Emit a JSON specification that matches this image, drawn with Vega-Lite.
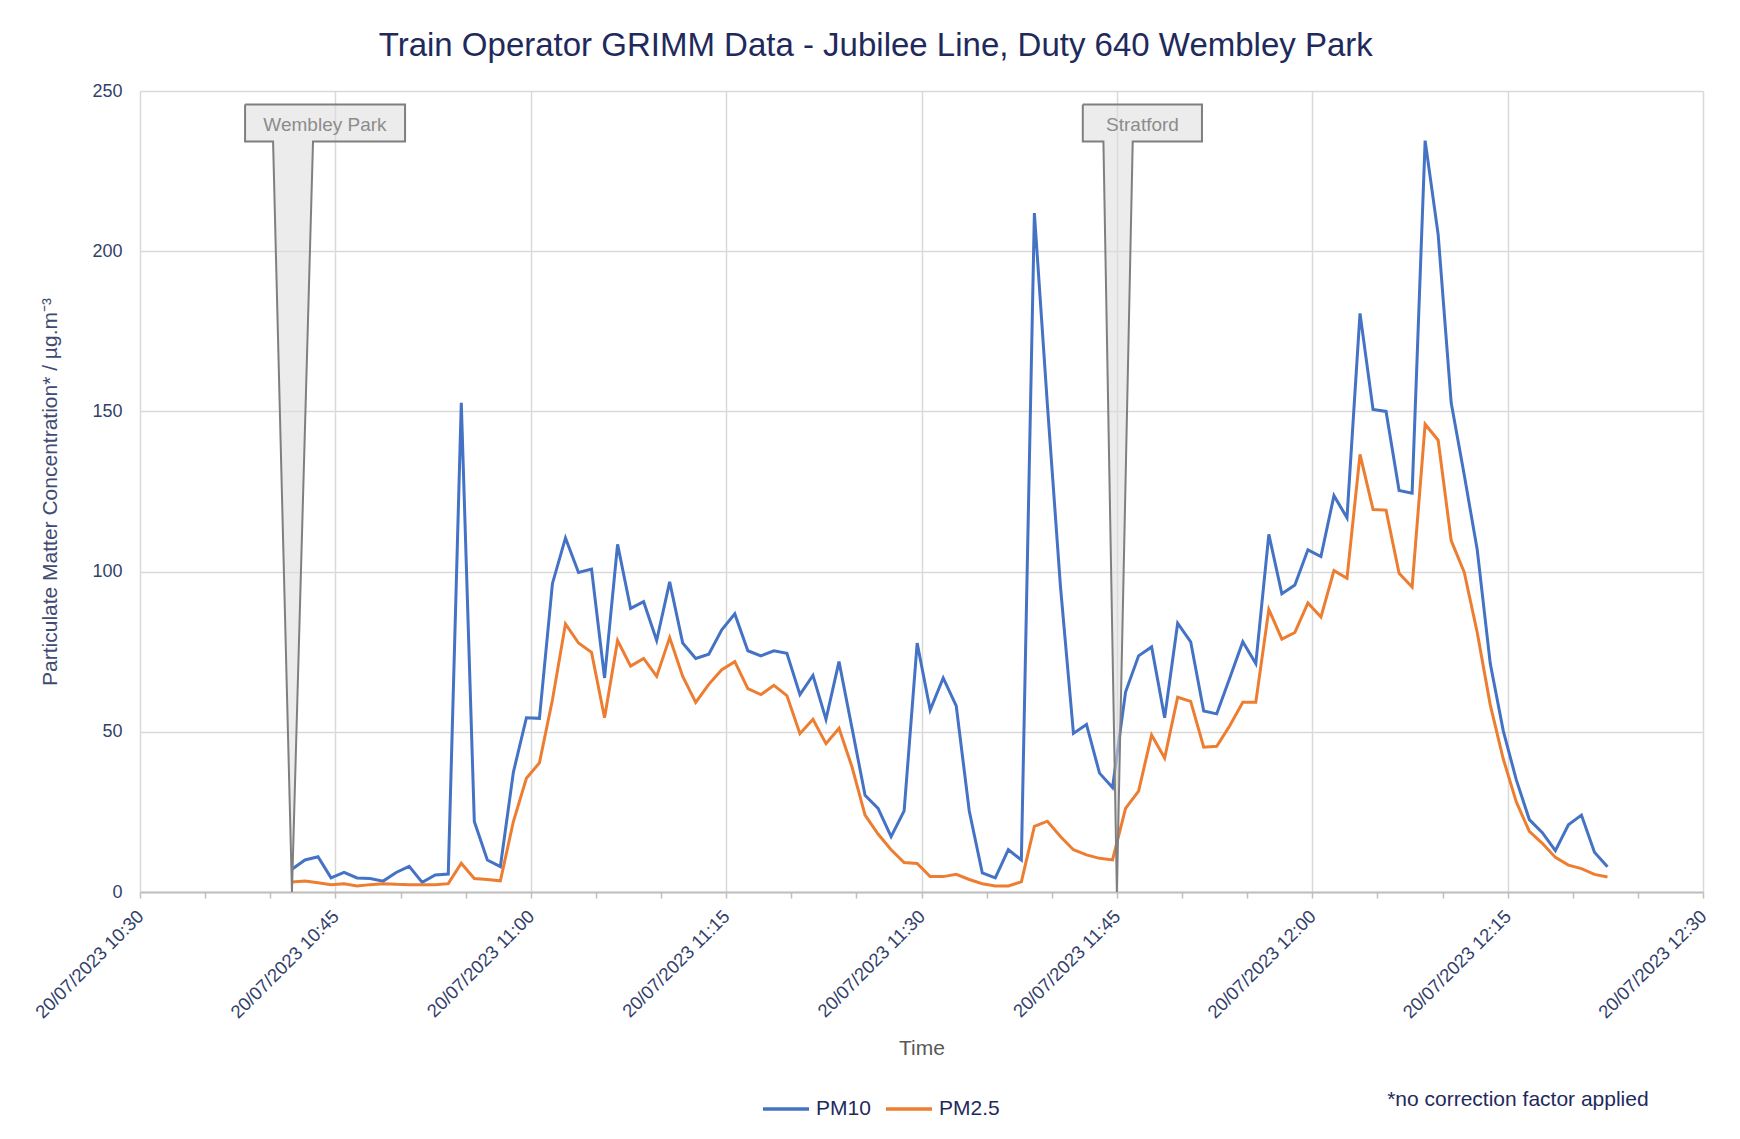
{
  "$schema": "https://vega.github.io/schema/vega-lite/v6.json",
  "width": 1563,
  "height": 801,
  "autosize": {"type": "none"},
  "padding": {"left": 140, "top": 91, "right": 37, "bottom": 247},
  "background": "white",
  "config": {
    "view": {"stroke": null},
    "font": "Liberation Sans",
    "axisX": {
      "labelAngle": -45, "labelFontSize": 18.5, "labelColor": "#333f6b", "labelPadding": 15, "labelBaseline": "middle",
      "labelOverlap": false, "labelBound": false, "labelFlush": false,
      "gridColor": "#d9d9d9", "gridWidth": 1.5,
      "domainColor": "#bfbfbf", "domainWidth": 2,
      "tickColor": "#bfbfbf", "tickWidth": 1.5, "tickSize": 6,
      "titleFontSize": 21, "titleColor": "#595959", "titleFontWeight": "normal", "titlePadding": 16
    },
    "axisY": {
      "domain": false, "ticks": false,
      "labelFontSize": 18, "labelColor": "#333f6b", "labelPadding": 18,
      "gridColor": "#d9d9d9", "gridWidth": 1.5,
      "titleFontSize": 21, "titleFontWeight": "normal", "titleColor": "#404b73", "titlePadding": 31
    }
  },
  "title": {
    "text": "Train Operator GRIMM Data - Jubilee Line, Duty 640 Wembley Park",
    "fontSize": 33, "fontWeight": "normal", "color": "#1f2a5c",
    "anchor": "middle", "frame": "bounds", "offset": 19, "dx": 5
  },
  "resolve": {"axis": {"x": "independent"}},
  "datasets": {
    "gr": [
      {"t":"2023-07-20T10:41:40","PM10":7.1,"PM25":3.1},
      {"t":"2023-07-20T10:42:40","PM10":10,"PM25":3.4},
      {"t":"2023-07-20T10:43:40","PM10":11,"PM25":2.9},
      {"t":"2023-07-20T10:44:40","PM10":4.4,"PM25":2.3},
      {"t":"2023-07-20T10:45:40","PM10":6.1,"PM25":2.6},
      {"t":"2023-07-20T10:46:40","PM10":4.4,"PM25":1.9},
      {"t":"2023-07-20T10:47:40","PM10":4.2,"PM25":2.3},
      {"t":"2023-07-20T10:48:40","PM10":3.4,"PM25":2.6},
      {"t":"2023-07-20T10:49:40","PM10":6.1,"PM25":2.4},
      {"t":"2023-07-20T10:50:40","PM10":8,"PM25":2.3},
      {"t":"2023-07-20T10:51:40","PM10":3,"PM25":2.3},
      {"t":"2023-07-20T10:52:40","PM10":5.3,"PM25":2.3},
      {"t":"2023-07-20T10:53:40","PM10":5.6,"PM25":2.6},
      {"t":"2023-07-20T10:54:40","PM10":152.7,"PM25":9},
      {"t":"2023-07-20T10:55:40","PM10":22,"PM25":4.2},
      {"t":"2023-07-20T10:56:40","PM10":10,"PM25":3.9},
      {"t":"2023-07-20T10:57:40","PM10":7.9,"PM25":3.5},
      {"t":"2023-07-20T10:58:40","PM10":37.4,"PM25":22},
      {"t":"2023-07-20T10:59:40","PM10":54.4,"PM25":35.5},
      {"t":"2023-07-20T11:00:40","PM10":54.2,"PM25":40.3},
      {"t":"2023-07-20T11:01:40","PM10":96.3,"PM25":60},
      {"t":"2023-07-20T11:02:40","PM10":110.5,"PM25":83.7},
      {"t":"2023-07-20T11:03:40","PM10":99.7,"PM25":77.7},
      {"t":"2023-07-20T11:04:40","PM10":100.8,"PM25":74.8},
      {"t":"2023-07-20T11:05:40","PM10":66.8,"PM25":54.4},
      {"t":"2023-07-20T11:06:40","PM10":108.5,"PM25":78.5},
      {"t":"2023-07-20T11:07:40","PM10":88.5,"PM25":70.5},
      {"t":"2023-07-20T11:08:40","PM10":90.6,"PM25":72.9},
      {"t":"2023-07-20T11:09:40","PM10":78.5,"PM25":67.3},
      {"t":"2023-07-20T11:10:40","PM10":96.8,"PM25":79.4},
      {"t":"2023-07-20T11:11:40","PM10":77.7,"PM25":67.3},
      {"t":"2023-07-20T11:12:40","PM10":72.9,"PM25":59.2},
      {"t":"2023-07-20T11:13:40","PM10":74.2,"PM25":64.8},
      {"t":"2023-07-20T11:14:40","PM10":81.8,"PM25":69.4},
      {"t":"2023-07-20T11:15:40","PM10":86.8,"PM25":71.9},
      {"t":"2023-07-20T11:16:40","PM10":75.3,"PM25":63.5},
      {"t":"2023-07-20T11:17:40","PM10":73.7,"PM25":61.6},
      {"t":"2023-07-20T11:18:40","PM10":75.3,"PM25":64.5},
      {"t":"2023-07-20T11:19:40","PM10":74.5,"PM25":61.3},
      {"t":"2023-07-20T11:20:40","PM10":61.6,"PM25":49.4},
      {"t":"2023-07-20T11:21:40","PM10":67.6,"PM25":53.9},
      {"t":"2023-07-20T11:22:40","PM10":53.9,"PM25":46.3},
      {"t":"2023-07-20T11:23:40","PM10":71.9,"PM25":51.1},
      {"t":"2023-07-20T11:24:40","PM10":51.1,"PM25":39},
      {"t":"2023-07-20T11:25:40","PM10":30.2,"PM25":24},
      {"t":"2023-07-20T11:26:40","PM10":26.1,"PM25":18.1},
      {"t":"2023-07-20T11:27:40","PM10":17.3,"PM25":13.2},
      {"t":"2023-07-20T11:28:40","PM10":25.3,"PM25":9.2},
      {"t":"2023-07-20T11:29:40","PM10":77.7,"PM25":8.9},
      {"t":"2023-07-20T11:30:40","PM10":56.8,"PM25":4.8},
      {"t":"2023-07-20T11:31:40","PM10":66.8,"PM25":4.8},
      {"t":"2023-07-20T11:32:40","PM10":58.1,"PM25":5.5},
      {"t":"2023-07-20T11:33:40","PM10":25.3,"PM25":3.9},
      {"t":"2023-07-20T11:34:40","PM10":6,"PM25":2.6},
      {"t":"2023-07-20T11:35:40","PM10":4.4,"PM25":1.9},
      {"t":"2023-07-20T11:36:40","PM10":13.2,"PM25":1.9},
      {"t":"2023-07-20T11:37:40","PM10":10,"PM25":3.2},
      {"t":"2023-07-20T11:38:40","PM10":211.9,"PM25":20.5},
      {"t":"2023-07-20T11:39:40","PM10":152,"PM25":22.1},
      {"t":"2023-07-20T11:40:40","PM10":95.5,"PM25":17.3},
      {"t":"2023-07-20T11:41:40","PM10":49.5,"PM25":13.2},
      {"t":"2023-07-20T11:42:40","PM10":52.3,"PM25":11.6},
      {"t":"2023-07-20T11:43:40","PM10":37.1,"PM25":10.5},
      {"t":"2023-07-20T11:44:40","PM10":32.6,"PM25":10},
      {"t":"2023-07-20T11:45:40","PM10":62.4,"PM25":26.1},
      {"t":"2023-07-20T11:46:40","PM10":73.7,"PM25":31.5},
      {"t":"2023-07-20T11:47:40","PM10":76.5,"PM25":49},
      {"t":"2023-07-20T11:48:40","PM10":54.4,"PM25":41.8},
      {"t":"2023-07-20T11:49:40","PM10":83.9,"PM25":60.8},
      {"t":"2023-07-20T11:50:40","PM10":78.1,"PM25":59.5},
      {"t":"2023-07-20T11:51:40","PM10":56.5,"PM25":45.2},
      {"t":"2023-07-20T11:52:40","PM10":55.6,"PM25":45.5},
      {"t":"2023-07-20T11:53:40","PM10":66.8,"PM25":51.9},
      {"t":"2023-07-20T11:54:40","PM10":78.1,"PM25":59.2},
      {"t":"2023-07-20T11:55:40","PM10":71.3,"PM25":59.2},
      {"t":"2023-07-20T11:56:40","PM10":111.6,"PM25":88.2},
      {"t":"2023-07-20T11:57:40","PM10":93.1,"PM25":78.9},
      {"t":"2023-07-20T11:58:40","PM10":95.8,"PM25":81},
      {"t":"2023-07-20T11:59:40","PM10":106.8,"PM25":90.2},
      {"t":"2023-07-20T12:00:40","PM10":104.7,"PM25":85.8},
      {"t":"2023-07-20T12:01:40","PM10":123.7,"PM25":100.3},
      {"t":"2023-07-20T12:02:40","PM10":116.8,"PM25":97.9},
      {"t":"2023-07-20T12:03:40","PM10":180.6,"PM25":136.6},
      {"t":"2023-07-20T12:04:40","PM10":150.6,"PM25":119.4},
      {"t":"2023-07-20T12:05:40","PM10":150,"PM25":119.2},
      {"t":"2023-07-20T12:06:40","PM10":125.3,"PM25":99.5},
      {"t":"2023-07-20T12:07:40","PM10":124.5,"PM25":95.2},
      {"t":"2023-07-20T12:08:40","PM10":234.5,"PM25":146},
      {"t":"2023-07-20T12:09:40","PM10":205.2,"PM25":141},
      {"t":"2023-07-20T12:10:40","PM10":152.7,"PM25":109.7},
      {"t":"2023-07-20T12:11:40","PM10":130.2,"PM25":99.8},
      {"t":"2023-07-20T12:12:40","PM10":106.8,"PM25":81},
      {"t":"2023-07-20T12:13:40","PM10":71.3,"PM25":58.4},
      {"t":"2023-07-20T12:14:40","PM10":50.3,"PM25":41.5},
      {"t":"2023-07-20T12:15:40","PM10":35,"PM25":28.1},
      {"t":"2023-07-20T12:16:40","PM10":22.6,"PM25":18.9},
      {"t":"2023-07-20T12:17:40","PM10":18.5,"PM25":15.2},
      {"t":"2023-07-20T12:18:40","PM10":12.9,"PM25":10.8},
      {"t":"2023-07-20T12:19:40","PM10":21,"PM25":8.4},
      {"t":"2023-07-20T12:20:40","PM10":24,"PM25":7.3},
      {"t":"2023-07-20T12:21:40","PM10":12.4,"PM25":5.5},
      {"t":"2023-07-20T12:22:40","PM10":7.9,"PM25":4.7}
    ],
    "callouts": [
      {"name":"Wembley Park","ord":1,"t":"2023-07-20T10:38:04","v":245.8},
      {"name":"Wembley Park","ord":2,"t":"2023-07-20T10:50:21","v":245.8},
      {"name":"Wembley Park","ord":3,"t":"2023-07-20T10:50:21","v":234.2},
      {"name":"Wembley Park","ord":4,"t":"2023-07-20T10:43:17","v":234.2},
      {"name":"Wembley Park","ord":5,"t":"2023-07-20T10:41:40","v":0},
      {"name":"Wembley Park","ord":6,"t":"2023-07-20T10:40:13","v":234.2},
      {"name":"Wembley Park","ord":7,"t":"2023-07-20T10:38:04","v":234.2},
      {"name":"Wembley Park","ord":8,"t":"2023-07-20T10:38:04","v":245.8},
      {"name":"Stratford","ord":1,"t":"2023-07-20T11:42:23","v":245.8},
      {"name":"Stratford","ord":2,"t":"2023-07-20T11:51:32","v":245.8},
      {"name":"Stratford","ord":3,"t":"2023-07-20T11:51:32","v":234.2},
      {"name":"Stratford","ord":4,"t":"2023-07-20T11:46:13","v":234.2},
      {"name":"Stratford","ord":5,"t":"2023-07-20T11:45:00","v":0},
      {"name":"Stratford","ord":6,"t":"2023-07-20T11:43:58","v":234.2},
      {"name":"Stratford","ord":7,"t":"2023-07-20T11:42:23","v":234.2},
      {"name":"Stratford","ord":8,"t":"2023-07-20T11:42:23","v":245.8}
    ],
    "labels": [
      {"label":"Wembley Park","t":"2023-07-20T10:44:12","v":239.5},
      {"label":"Stratford","t":"2023-07-20T11:46:58","v":239.5}
    ]
  },
  "layer": [
    {
      "data": {"name": "gr"},
      "transform": [{"fold": ["PM10", "PM25"], "as": ["series", "v"]}],
      "mark": {"type": "line", "strokeWidth": 3, "strokeJoin": "miter"},
      "encoding": {
        "x": {
          "field": "t", "type": "temporal", "title": "Time",
          "scale": {"domain": [{"year":2023,"month":7,"date":20,"hours":10,"minutes":30},{"year":2023,"month":7,"date":20,"hours":12,"minutes":30}], "nice": false},
          "axis": {
            "orient": "bottom",
            "format": "%d/%m/%Y %H:%M",
            "values": [
              {"year":2023,"month":7,"date":20,"hours":10,"minutes":30},
              {"year":2023,"month":7,"date":20,"hours":10,"minutes":45},
              {"year":2023,"month":7,"date":20,"hours":11,"minutes":0},
              {"year":2023,"month":7,"date":20,"hours":11,"minutes":15},
              {"year":2023,"month":7,"date":20,"hours":11,"minutes":30},
              {"year":2023,"month":7,"date":20,"hours":11,"minutes":45},
              {"year":2023,"month":7,"date":20,"hours":12,"minutes":0},
              {"year":2023,"month":7,"date":20,"hours":12,"minutes":15},
              {"year":2023,"month":7,"date":20,"hours":12,"minutes":30}
            ]
          }
        },
        "y": {
          "field": "v", "type": "quantitative",
          "title": "Particulate Matter Concentration* / µg.m⁻³",
          "scale": {"domain": [0, 250], "nice": false},
          "axis": {"values": [0, 50, 100, 150, 200, 250]}
        },
        "color": {
          "field": "series", "type": "nominal",
          "scale": {"domain": ["PM10", "PM25"], "range": ["#4472C4", "#ED7D31"]},
          "legend": {
            "orient": "none", "legendX": 621, "legendY": 993, "direction": "horizontal",
            "title": null, "symbolType": "stroke", "symbolSize": 2116, "symbolStrokeWidth": 3.5,
            "labelFontSize": 21, "labelColor": "#1f2a5c", "labelOffset": 5, "columnPadding": 8,
            "labelExpr": "datum.label == 'PM25' ? 'PM2.5' : datum.label"
          }
        }
      }
    },
    {
      "data": {"name": "callouts"},
      "mark": {"type": "line", "fill": "#dcdcdc", "fillOpacity": 0.55, "stroke": "#7f7f7f", "strokeWidth": 2, "strokeJoin": "miter"},
      "encoding": {
        "x": {
          "field": "t", "type": "temporal", "title": "Time",
          "axis": {
            "orient": "bottom", "title": null, "labels": false, "grid": false, "domain": false,
            "ticks": true, "tickSize": 6, "tickColor": "#bfbfbf", "tickWidth": 1.5,
            "values": [
              {"year":2023,"month":7,"date":20,"hours":10,"minutes":35},
              {"year":2023,"month":7,"date":20,"hours":10,"minutes":40},
              {"year":2023,"month":7,"date":20,"hours":10,"minutes":50},
              {"year":2023,"month":7,"date":20,"hours":10,"minutes":55},
              {"year":2023,"month":7,"date":20,"hours":11,"minutes":5},
              {"year":2023,"month":7,"date":20,"hours":11,"minutes":10},
              {"year":2023,"month":7,"date":20,"hours":11,"minutes":20},
              {"year":2023,"month":7,"date":20,"hours":11,"minutes":25},
              {"year":2023,"month":7,"date":20,"hours":11,"minutes":35},
              {"year":2023,"month":7,"date":20,"hours":11,"minutes":40},
              {"year":2023,"month":7,"date":20,"hours":11,"minutes":50},
              {"year":2023,"month":7,"date":20,"hours":11,"minutes":55},
              {"year":2023,"month":7,"date":20,"hours":12,"minutes":5},
              {"year":2023,"month":7,"date":20,"hours":12,"minutes":10},
              {"year":2023,"month":7,"date":20,"hours":12,"minutes":20},
              {"year":2023,"month":7,"date":20,"hours":12,"minutes":25}
            ]
          }
        },
        "y": {"field": "v", "type": "quantitative", "title": "Particulate Matter Concentration* / µg.m⁻³"},
        "detail": {"field": "name"},
        "order": {"field": "ord", "type": "quantitative"}
      }
    },
    {
      "data": {"name": "labels"},
      "mark": {"type": "text", "fontSize": 19, "color": "#8c8c8c", "baseline": "middle"},
      "encoding": {
        "x": {"field": "t", "type": "temporal", "title": "Time", "axis": null},
        "y": {"field": "v", "type": "quantitative", "title": "Particulate Matter Concentration* / µg.m⁻³"},
        "text": {"field": "label"}
      }
    },
    {
      "data": {"values": [{"note": "*no correction factor applied"}]},
      "mark": {"type": "text", "fontSize": 21, "color": "#1f2a5c", "align": "left", "baseline": "middle"},
      "encoding": {
        "x": {"datum": {"year":2023,"month":7,"date":20,"hours":12,"minutes":5,"seconds":45}, "type": "temporal", "title": "Time", "axis": null},
        "y": {"datum": -65, "type": "quantitative", "title": "Particulate Matter Concentration* / µg.m⁻³"},
        "text": {"field": "note"}
      }
    }
  ]
}
